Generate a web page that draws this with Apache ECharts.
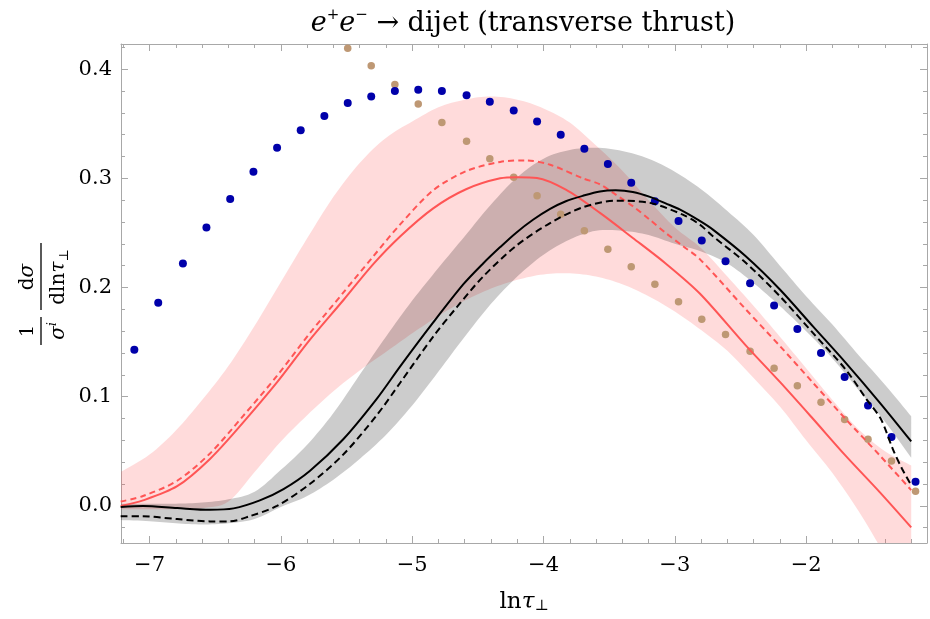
<!DOCTYPE html>
<html><head><meta charset="utf-8">
<script src="https://cdn.jsdelivr.net/npm/echarts@6/dist/echarts.min.js"></script>
<style>html,body{margin:0;padding:0;background:#fff}#c{width:930px;height:619px}</style>
</head><body><div id="c"></div>
<script>
// ---- data ----
const binX = [-7.116,-6.934,-6.746,-6.567,-6.386,-6.209,-6.029,-5.849,-5.669,-5.491,-5.312,-5.132,-4.954,-4.774,-4.586,-4.409,-4.227,-4.049,-3.869,-3.689,-3.510,-3.332,-3.152,-2.972,-2.795,-2.614,-2.427,-2.244,-2.067,-1.887,-1.707,-1.529,-1.350,-1.167];
const blueY = [0.143,0.186,0.222,0.255,0.281,0.306,0.328,0.344,0.357,0.369,0.375,0.380,0.381,0.380,0.376,0.370,0.362,0.352,0.340,0.327,0.313,0.296,0.279,0.261,0.243,0.224,0.204,0.1835,0.162,0.140,0.118,0.092,0.063,0.022];
const brownY = [null,null,null,null,null,null,null,null,null,0.419,0.403,0.386,0.368,0.351,0.334,0.318,0.301,0.284,0.267,0.252,0.235,0.219,0.203,0.187,0.171,0.157,0.1415,0.126,0.110,0.095,0.079,0.061,0.041,0.0135];

const bandX = [-7.22,-7.0,-6.8,-6.6,-6.4,-6.2,-6.0,-5.8,-5.6,-5.4,-5.2,-5.0,-4.8,-4.6,-4.4,-4.2,-4.0,-3.8,-3.6,-3.4,-3.2,-3.0,-2.8,-2.6,-2.4,-2.2,-2.0,-1.8,-1.6,-1.4,-1.2];
const pinkUpper = [0.031,0.047,0.069,0.097,0.128,0.165,0.205,0.245,0.283,0.314,0.337,0.352,0.365,0.372,0.375,0.372,0.364,0.351,0.330,0.307,0.280,0.255,0.236,0.210,0.183,0.155,0.126,0.097,0.070,0.050,0.037];
const pinkLower = [-0.003,-0.003,-0.003,-0.002,0.004,0.031,0.059,0.083,0.105,0.124,0.141,0.158,0.174,0.188,0.199,0.207,0.212,0.213,0.210,0.203,0.192,0.178,0.161,0.142,0.117,0.091,0.060,0.030,-0.005,-0.045,-0.085];
const grayUpper = [0.002,0.002,0.002,0.003,0.006,0.013,0.033,0.056,0.085,0.120,0.155,0.188,0.218,0.247,0.276,0.301,0.318,0.326,0.328,0.325,0.318,0.306,0.290,0.270,0.248,0.220,0.192,0.166,0.138,0.111,0.082];
const grayLower = [-0.013,-0.014,-0.016,-0.017,-0.016,-0.012,-0.001,0.009,0.024,0.043,0.065,0.092,0.123,0.155,0.185,0.210,0.230,0.244,0.252,0.252,0.248,0.240,0.233,0.222,0.204,0.183,0.160,0.135,0.106,0.077,0.044];

const redSolid = [[-7.22,0.000],[-7.05,0.005],[-6.79,0.018],[-6.54,0.043],[-6.29,0.076],[-6.03,0.113],[-5.78,0.152],[-5.52,0.189],[-5.30,0.221],[-5.09,0.247],[-4.84,0.2725],[-4.59,0.290],[-4.33,0.3000],[-4.20,0.3010],[-4.05,0.3003],[-3.83,0.2896],[-3.57,0.2683],[-3.32,0.2454],[-3.07,0.2220],[-2.81,0.1945],[-2.46,0.147],[-2.20,0.1135],[-1.95,0.080],[-1.70,0.046],[-1.44,0.0126],[-1.20,-0.0197]];
const redDashed = [[-7.22,0.004],[-7.05,0.009],[-6.79,0.023],[-6.54,0.048],[-6.29,0.082],[-6.03,0.119],[-5.78,0.158],[-5.52,0.196],[-5.30,0.228],[-5.09,0.258],[-4.84,0.289],[-4.59,0.3065],[-4.33,0.3150],[-4.13,0.3164],[-3.95,0.3124],[-3.70,0.300],[-3.57,0.2945],[-3.45,0.285],[-3.32,0.2745],[-3.19,0.262],[-3.07,0.250],[-2.94,0.238],[-2.81,0.226],[-2.46,0.180],[-2.20,0.1464],[-1.95,0.113],[-1.70,0.0796],[-1.44,0.0463],[-1.20,0.0144]];
const blackSolid = [[-7.22,-0.001],[-7.05,0.000],[-6.79,-0.002],[-6.54,-0.0036],[-6.36,-0.0023],[-6.16,0.005],[-5.98,0.0154],[-5.78,0.032],[-5.525,0.061],[-5.27,0.098],[-5.09,0.128],[-4.84,0.168],[-4.61,0.203],[-4.46,0.222],[-4.33,0.237],[-4.21,0.250],[-4.08,0.262],[-3.95,0.272],[-3.83,0.279],[-3.70,0.284],[-3.57,0.288],[-3.45,0.289],[-3.32,0.2875],[-3.19,0.283],[-3.07,0.277],[-2.96,0.2713],[-2.81,0.261],[-2.71,0.253],[-2.46,0.2286],[-2.20,0.1982],[-1.95,0.1646],[-1.70,0.1312],[-1.44,0.0946],[-1.20,0.059]];
const blackDashed = [[-7.22,-0.0096],[-7.05,-0.0096],[-6.79,-0.0121],[-6.54,-0.0142],[-6.39,-0.0142],[-6.24,-0.0096],[-6.03,0.000],[-5.78,0.020],[-5.525,0.047],[-5.27,0.083],[-5.09,0.113],[-4.84,0.155],[-4.66,0.182],[-4.46,0.210],[-4.21,0.238],[-3.95,0.259],[-3.70,0.2735],[-3.45,0.2795],[-3.19,0.2775],[-2.94,0.2667],[-2.81,0.2576],[-2.71,0.2469],[-2.46,0.2226],[-2.20,0.192],[-1.95,0.1586],[-1.70,0.125],[-1.54,0.0976],[-1.43,0.0793],[-1.34,0.052],[-1.27,0.034],[-1.20,0.019]];

const xRange = [-7.2175, -1.0798];
const yRange = [-0.034, 0.423];

// ---- chart ----
const FONT = 'DejaVu Serif';
const AX = '#A8A8A8';
function fmtX(v){ const r = Math.round(v); if (Math.abs(v - r) > 1e-6) return ''; return r < 0 ? '\u2212' + (-r) : String(r); }
function fmtY(v){ const r = Math.round(v * 10); if (Math.abs(v * 10 - r) > 1e-6) return ''; return (r / 10).toFixed(1); }
function zip(xs, ys){ return xs.map((x, i) => [x, ys[i]]); }

// Catmull-Rom smoothing of already-projected pixel points
function smoothPx(pts, seg){
  const out = [];
  const n = pts.length;
  for (let i = 0; i < n - 1; i++) {
    const p0 = pts[Math.max(i - 1, 0)], p1 = pts[i], p2 = pts[i + 1], p3 = pts[Math.min(i + 2, n - 1)];
    for (let k = 0; k < seg; k++) {
      const t = k / seg, t2 = t * t, t3 = t2 * t;
      const f = j => 0.5 * ((2 * p1[j]) + (-p0[j] + p2[j]) * t + (2 * p0[j] - 5 * p1[j] + 4 * p2[j] - p3[j]) * t2 + (-p0[j] + 3 * p1[j] - 3 * p2[j] + p3[j]) * t3);
      out.push([f(0), f(1)]);
    }
  }
  out.push(pts[n - 1]);
  return out;
}
function bandRenderer(upper, lower, fill){
  return function(params, api){
    const up = bandX.map((x, i) => api.coord([x, upper[i]]));
    const lo = bandX.map((x, i) => api.coord([x, lower[i]]));
    const pts = smoothPx(up, 8).concat(smoothPx(lo, 8).reverse());
    return { type: 'polygon', shape: { points: pts }, style: { fill: fill, stroke: null } };
  };
}

function axisCommon(show){
  return {
    axisLine: { show: true, onZero: false, lineStyle: { color: AX, width: 1 } },
    axisTick: { show: true, inside: true, length: 7, lineStyle: { color: AX, width: 1 } },
    minorTick: { show: true, splitNumber: 5, length: 4, lineStyle: { color: AX, width: 1 } },
    splitLine: { show: false },
    axisLabel: { show: show, color: '#000', fontFamily: FONT, fontSize: 21 }
  };
}

const chart = echarts.init(document.getElementById('c'), null, { renderer: 'canvas' });
const bx = axisCommon(true), tx = axisCommon(false), ly = axisCommon(true), ry = axisCommon(false);
bx.axisLabel.formatter = fmtX; bx.axisLabel.margin = 12;
ly.axisLabel.formatter = fmtY; ly.axisLabel.margin = 9;

const option = {
  animation: false,
  backgroundColor: '#fff',
  grid: { left: 121, right: 2, top: 44, bottom: 75, containLabel: false },
  xAxis: [
    Object.assign({ type: 'value', min: xRange[0], max: xRange[1], splitNumber: 6, position: 'bottom',
      name: '{a|ln}{b|\u03C4}{c|\u22A5}', nameLocation: 'middle', nameGap: 48,
      nameTextStyle: { color: '#000', rich: {
        a: { fontFamily: FONT, fontSize: 23, color: '#000' },
        b: { fontFamily: FONT, fontSize: 23, fontStyle: 'italic', color: '#000' },
        c: { fontFamily: FONT, fontSize: 15, color: '#000', verticalAlign: 'bottom', lineHeight: 16 } } } }, bx),
    Object.assign({ type: 'value', min: xRange[0], max: xRange[1], splitNumber: 6, position: 'top' }, tx)
  ],
  yAxis: [
    Object.assign({ type: 'value', min: yRange[0], max: yRange[1], splitNumber: 5, position: 'left' }, ly),
    Object.assign({ type: 'value', min: yRange[0], max: yRange[1], splitNumber: 5, position: 'right' }, ry)
  ],
  graphic: [
    { type: 'text', x: 523, y: 24, style: {
        text: '{i|e}{s|+}{i|e}{s|\u2212}{n| \u2192 dijet (transverse thrust)}',
        align: 'center', verticalAlign: 'middle',
        rich: {
          i: { fontFamily: FONT, fontSize: 27, fontStyle: 'italic', fill: '#000', lineHeight: 32 },
          n: { fontFamily: FONT, fontSize: 27, fill: '#000', lineHeight: 32 },
          s: { fontFamily: FONT, fontSize: 15, fill: '#000', lineHeight: 16, verticalAlign: 'top' }
        } } },
    { type: 'group', x: 41, y: 294, rotation: Math.PI / 2, children: [
      { type: 'text', x: -37, y: -13, style: { text: '1', fontFamily: FONT, fontSize: 19, fill: '#000', align: 'center', verticalAlign: 'middle' } },
      { type: 'line', shape: { x1: -51, y1: 0, x2: -23, y2: 0 }, style: { stroke: '#000', lineWidth: 1.3 } },
      { type: 'text', x: -37, y: 18, style: { text: '{s|\u03C3}{i|i}', align: 'center', verticalAlign: 'middle',
          rich: { s: { fontFamily: FONT, fontSize: 20, fontStyle: 'italic', fill: '#000', lineHeight: 24 },
                  i: { fontFamily: FONT, fontSize: 12, fontStyle: 'italic', fill: '#000', lineHeight: 12, verticalAlign: 'top' } } } },
      { type: 'text', x: 17, y: -13, style: { text: '{d|d}{s|\u03C3}', align: 'center', verticalAlign: 'middle',
          rich: { d: { fontFamily: FONT, fontSize: 20, fill: '#000' }, s: { fontFamily: FONT, fontSize: 20, fontStyle: 'italic', fill: '#000' } } } },
      { type: 'line', shape: { x1: -16, y1: 0, x2: 51, y2: 0 }, style: { stroke: '#000', lineWidth: 1.3 } },
      { type: 'text', x: 17, y: 18, style: { text: '{d|dln}{s|\u03C4}{b|\u22A5}', align: 'center', verticalAlign: 'middle',
          rich: { d: { fontFamily: FONT, fontSize: 20, fill: '#000', lineHeight: 24 }, s: { fontFamily: FONT, fontSize: 20, fontStyle: 'italic', fill: '#000', lineHeight: 24 },
                  b: { fontFamily: FONT, fontSize: 13, fill: '#000', lineHeight: 13, verticalAlign: 'bottom' } } } }
    ] }
  ],
  series: [
    { name: 'pink band', type: 'custom', coordinateSystem: 'cartesian2d', clip: true, silent: true,
      data: [[bandX[0], pinkUpper[0]]], renderItem: bandRenderer(pinkUpper, pinkLower, 'rgba(255,85,85,0.21)') },
    { name: 'gray band', type: 'custom', coordinateSystem: 'cartesian2d', clip: true, silent: true,
      data: [[bandX[0], grayUpper[0]]], renderItem: bandRenderer(grayUpper, grayLower, 'rgba(0,0,0,0.2)') },
    { name: 'red solid', type: 'line', data: redSolid, symbol: 'none', smooth: 0.3, lineStyle: { color: '#FF5555', width: 2 } },
    { name: 'red dashed', type: 'line', data: redDashed, symbol: 'none', smooth: 0.3, lineStyle: { color: '#FF5555', width: 2, type: [6, 4] } },
    { name: 'black solid', type: 'line', data: blackSolid, symbol: 'none', smooth: 0.3, lineStyle: { color: '#000', width: 2 } },
    { name: 'black dashed', type: 'line', data: blackDashed, symbol: 'none', smooth: 0.3, lineStyle: { color: '#000', width: 2, type: [7, 4] } },
    { name: 'brown', type: 'scatter', data: zip(binX, brownY).filter(p => p[1] !== null), symbol: 'circle', symbolSize: 7.5, itemStyle: { color: '#BE9874', opacity: 1 } },
    { name: 'blue', type: 'scatter', data: zip(binX, blueY), symbol: 'circle', symbolSize: 8, itemStyle: { color: '#0000AA', opacity: 1 } }
  ]
};
chart.setOption(option);
</script>
</body></html>
